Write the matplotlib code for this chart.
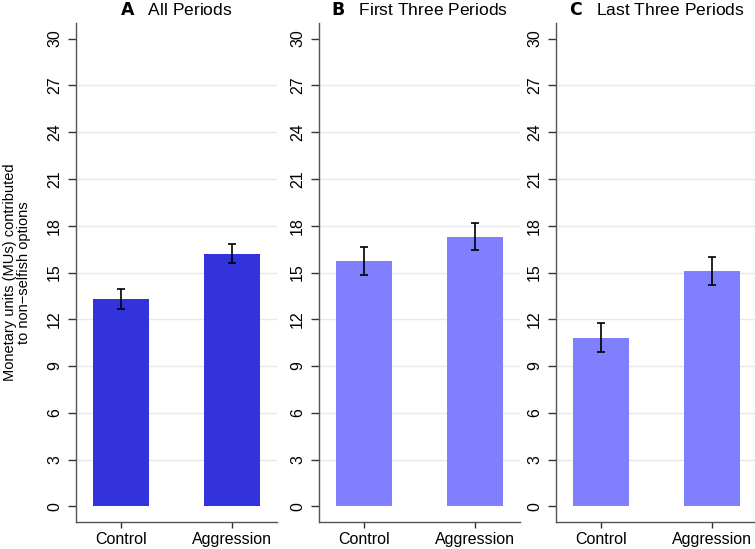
import matplotlib
matplotlib.use("Agg")
import matplotlib.pyplot as plt
import numpy as np

plt.rcParams['font.family'] = ['Liberation Sans', 'DejaVu Sans']

categories = ["Control", "Aggression"]
panel_letters = ["A", "B", "C"]
panel_titles = ["All Periods", "First Three Periods", "Last Three Periods"]
means_all = [13.3, 16.2]
err_all = [0.66, 0.62]
means_first = [15.75, 17.3]
err_first = [0.9, 0.88]
means_last = [10.83, 15.1]
err_last = [0.93, 0.89]
means = [means_all, means_first, means_last]
errs = [err_all, err_first, err_last]
colors = ["#3333DD", "#8080FF", "#8080FF"]
yticks = list(range(0, 31, 3))

W, H = 755, 549
fig = plt.figure(figsize=(W / 100, H / 100), dpi=100)

lefts = [76, 319, 556]
width_px = 201
bottom_px, top_px = 522, 23

for i in range(3):
    ax = fig.add_axes([lefts[i] / W, 1 - bottom_px / H, width_px / W, (bottom_px - top_px) / H])
    x = np.arange(1, len(categories) + 1)
    ax.bar(x, means[i], width=0.5, color=colors[i], zorder=2)
    ax.errorbar(x, means[i], yerr=errs[i], fmt='none', ecolor='black', elinewidth=1.2,
                capsize=3, capthick=1.2, zorder=3)
    ax.set_xlim(0.6, 2.4)
    ax.set_ylim(-1, 31)
    ax.set_yticks(yticks)
    ax.set_yticklabels([str(t) for t in yticks], rotation=90, va='center', fontsize=11.5)
    ax.set_xticks(x)
    ax.set_xticklabels(categories, fontsize=11.5)
    for t in yticks[1:-1]:
        ax.axhline(t, color='#e8e8e8', lw=1, zorder=1)
    for s in ['top', 'right']:
        ax.spines[s].set_visible(False)
    for s in ['left', 'bottom']:
        ax.spines[s].set_color('#555555')
        ax.spines[s].set_linewidth(1.0)
    ax.tick_params(axis='y', direction='out', length=6, width=1, color='#333333', pad=4)
    ax.tick_params(axis='x', direction='out', length=4, width=1, color='#333333', pad=3)
    ax.set_title(r"$\bf{" + panel_letters[i] + "}$   " + panel_titles[i], fontsize=12.5, pad=6)
    if i == 0:
        ax.set_ylabel("Monetary units (MUs) contributed\nto non\u2212selfish options", fontsize=10.5,
                      linespacing=1.05, va='center')
        ax.yaxis.set_label_coords((17 - lefts[i]) / width_px, 0.5)

fig.savefig("out.png", dpi=100)
